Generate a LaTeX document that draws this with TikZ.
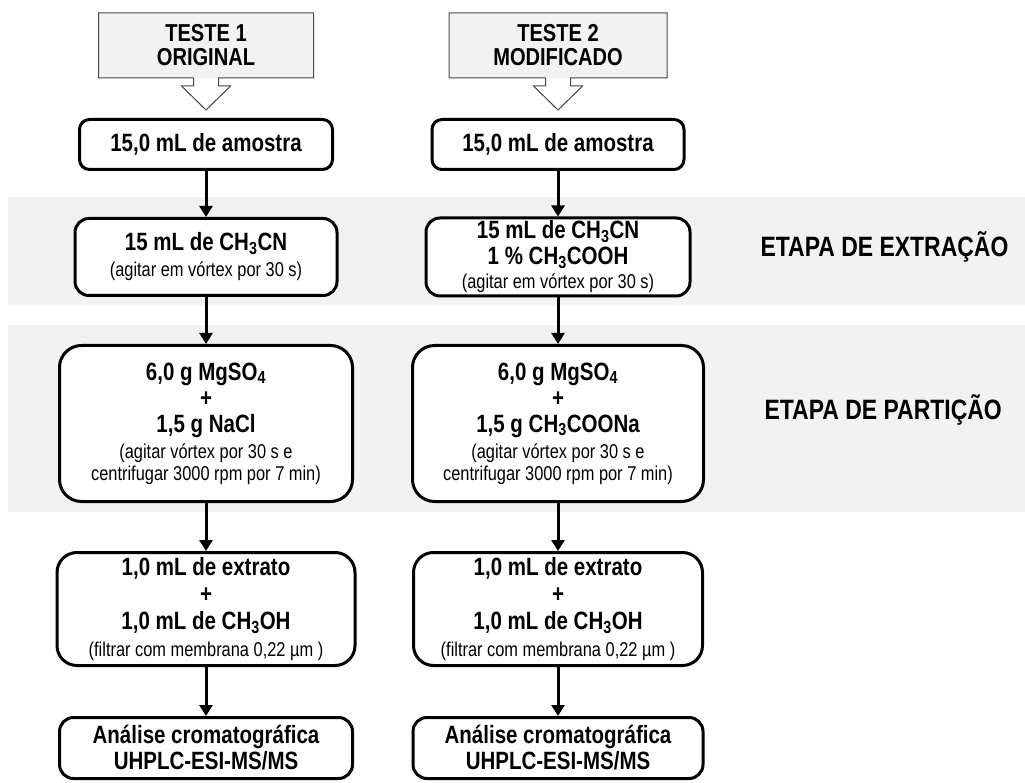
\documentclass[tikz,border=0pt]{standalone}
\usepackage{fontspec}
\setmainfont{Liberation Sans}[FakeStretch=0.82]
\usetikzlibrary{arrows.meta, calc, positioning}
\definecolor{bandgrey}{RGB}{242,242,242}
\definecolor{edgegrey}{RGB}{70,70,70}
\newcommand{\mainfnt}{\fontsize{25}{26}\selectfont\bfseries}
\newcommand{\notefnt}{\fontsize{20}{21}\selectfont\mdseries}

\begin{document}
\begin{tikzpicture}[x=1pt, y=-1pt,
    stepbox/.style={draw, line width=3pt, fill=white, rounded corners=14pt,
                    align=center, inner sep=0pt, font=\mainfnt},
    headbox/.style={fill=bandgrey, minimum width=215pt, minimum height=65pt, outer sep=0pt,
                    align=center, inner sep=0pt, font=\fontsize{24.5}{24}\selectfont\bfseries},
    flow/.style={line width=3pt, -{Triangle[length=11pt, width=13pt]}},
    stage/.style={anchor=west, font=\fontsize{28}{30}\selectfont\bfseries}]

    \useasboundingbox (0,0) rectangle (1025,783);

    % Stage bands
    \fill[bandgrey] (8,197) rectangle (1025,305);
    \fill[bandgrey] (8,325) rectangle (1025,512);
    \node[stage] (ext) at (757,247) {ETAPA DE EXTRAÇÃO};
    \node[stage] (part) at (761,410) {ETAPA DE PARTIÇÃO};

    % Headers
    \node[headbox] (h1) at (206,45.5) {TESTE 1\\ORIGINAL};
    \node[headbox, minimum width=218pt] (h2) at (558,45.5) {TESTE 2\\MODIFICADO};
    \foreach \h in {h1,h2} {
        \fill[white] ($(\h.south)+(-12.5,0)$) -- ++(0,8) -- ++(-12,0) -- ($(\h.south)+(0,32)$)
            -- ($(\h.south)+(24.5,8)$) -- ++(-12,0) -- ($(\h.south)+(12.5,0)$) -- cycle;
        \draw[edgegrey, line width=1pt] (\h.south west) -- (\h.north west) -- (\h.north east)
            -- (\h.south east) -- ($(\h.south)+(12.5,0)$) -- ++(0,8) -- ++(12,0)
            -- ($(\h.south)+(0,32)$) -- ($(\h.south)+(-24.5,8)$) -- ++(12,0)
            -- ($(\h.south)+(-12.5,0)$) -- cycle;
    }

    % Teste 1
    \node[stepbox, minimum width=253pt, minimum height=50pt, rounded corners=10pt] (a1) at (206,144.5) {15,0 mL de amostra};
    \node[stepbox, minimum width=262pt, minimum height=77pt] (a2) at (206,257)
        {15 mL de CH\textsubscript{3}CN\\{\notefnt (agitar em vórtex por 30 s)}};
    \node[stepbox, minimum width=293pt, minimum height=156pt, rounded corners=22pt] (a3) at (206,423.5)
        {6,0 g MgSO\textsubscript{4}\\+\\1,5 g NaCl\\{\notefnt (agitar vórtex por 30 s e}\\[-4pt]{\notefnt centrifugar 3000 rpm por 7 min)}};
    \node[stepbox, minimum width=298pt, minimum height=113pt, rounded corners=20pt] (a4) at (206,609)
        {1,0 mL de extrato\\[1pt]+\\[1pt]1,0 mL de CH\textsubscript{3}OH\\[1pt]{\notefnt (filtrar com membrana 0,22 µm )}};
    \node[stepbox, minimum width=293pt, minimum height=61pt] (a5) at (206,748)
        {Análise cromatográfica\\UHPLC-ESI-MS/MS};

    % Teste 2
    \node[stepbox, minimum width=252pt, minimum height=50pt, rounded corners=10pt] (b1) at (558,144.5) {15,0 mL de amostra};
    \node[stepbox, minimum width=264pt, minimum height=78pt] (b2) at (558,257)
        {15 mL de CH\textsubscript{3}CN\\1 \% CH\textsubscript{3}COOH\\[-2pt]{\notefnt (agitar em vórtex por 30 s)}};
    \node[stepbox, minimum width=291pt, minimum height=156pt, rounded corners=22pt] (b3) at (558,423.5)
        {6,0 g MgSO\textsubscript{4}\\+\\1,5 g CH\textsubscript{3}COONa\\{\notefnt (agitar vórtex por 30 s e}\\[-4pt]{\notefnt centrifugar 3000 rpm por 7 min)}};
    \node[stepbox, minimum width=289pt, minimum height=113pt, rounded corners=20pt] (b4) at (558,609)
        {1,0 mL de extrato\\[1pt]+\\[1pt]1,0 mL de CH\textsubscript{3}OH\\[1pt]{\notefnt (filtrar com membrana 0,22 µm )}};
    \node[stepbox, minimum width=290pt, minimum height=61pt] (b5) at (558,748)
        {Análise cromatográfica\\UHPLC-ESI-MS/MS};

    % Arrows
    \foreach \c in {a,b}
        \foreach \i/\j in {1/2,2/3,3/4,4/5}
            \draw[flow] (\c\i) -- (\c\j);
\end{tikzpicture}
\end{document}
